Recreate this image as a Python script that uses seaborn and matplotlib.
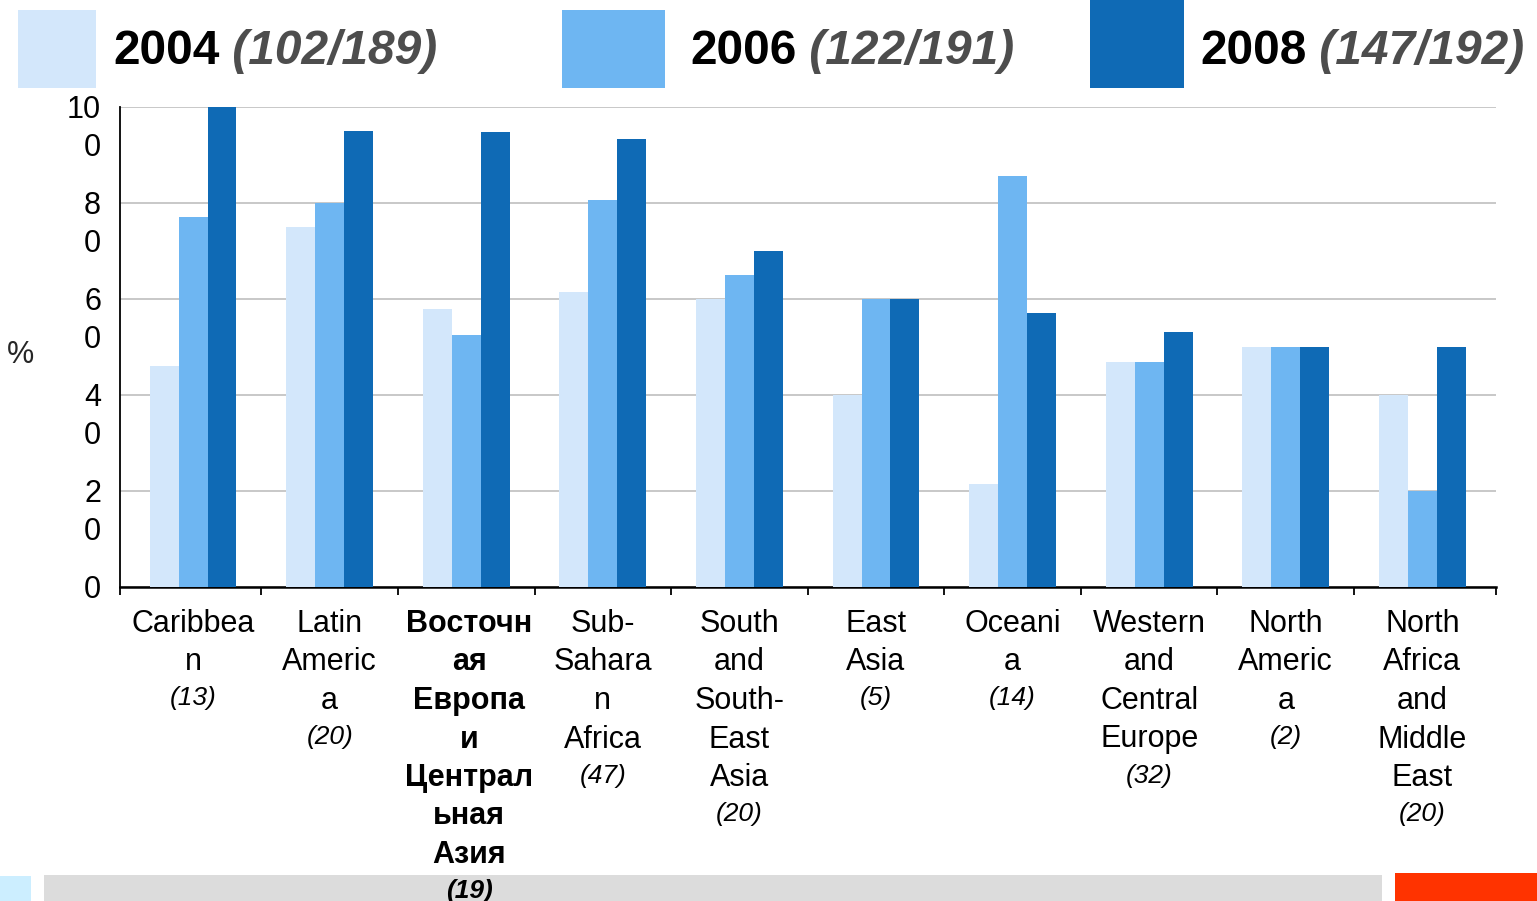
import numpy as np
import pandas as pd
import seaborn as sns
import matplotlib
matplotlib.use("Agg")
import matplotlib.pyplot as plt
from matplotlib.patches import Rectangle

sns.set_theme(style="white")
plt.rcParams['font.family'] = ['Liberation Sans', 'DejaVu Sans']

# ---------------- data ----------------
regions = ["Caribbean", "Latin America", "Eastern Europe and Central Asia",
           "Sub-Saharan Africa", "South and South-East Asia", "East Asia",
           "Oceania", "Western and Central Europe", "North America",
           "North Africa and Middle East"]
region_lines = [
    ["Caribbea", "n"],
    ["Latin", "Americ", "a"],
    ["Восточн", "ая", "Европа", "и", "Централ", "ьная", "Азия"],
    ["Sub-", "Sahara", "n", "Africa"],
    ["South", "and", "South-", "East", "Asia"],
    ["East", "Asia"],
    ["Oceani", "a"],
    ["Western", "and", "Central", "Europe"],
    ["North", "Americ", "a"],
    ["North", "Africa", "and", "Middle", "East"],
]
region_counts = ["(13)", "(20)", "(19)", "(47)", "(20)", "(5)", "(14)", "(32)", "(2)", "(20)"]
bold_region = "Eastern Europe and Central Asia"

years = ["2004", "2006", "2008"]
year_counts = ["(102/189)", "(122/191)", "(147/192)"]
values_2004 = [46, 75, 57.9, 61.5, 60, 40, 21.4, 46.9, 50, 40]
values_2006 = [77, 80, 52.6, 80.6, 65, 60, 85.7, 46.9, 50, 20]
values_2008 = [100, 95, 94.7, 93.4, 70, 60, 57.1, 53.1, 50, 50]
colors = ["#D3E7FB", "#6EB6F2", "#0F6AB5"]

ytick_values = [0, 20, 40, 60, 80, 100]

df = pd.DataFrame({
    "region": regions * 3,
    "year": [y for y in years for _ in regions],
    "value": values_2004 + values_2006 + values_2008,
})

# ---------------- figure ----------------
W, H = 1537, 901
fig = plt.figure(figsize=(W / 100, H / 100), dpi=100)
ax = fig.add_axes([120 / W, 1 - 587 / H, (1496 - 120) / W, (587 - 107) / H])

sns.barplot(data=df, x="region", y="value", hue="year", order=regions,
            hue_order=years, palette=colors, width=0.635, linewidth=0,
            saturation=1, errorbar=None, ax=ax, legend=False, zorder=3)

x0, x1 = -0.535, len(regions) - 0.461
ax.set_xlim(x0, x1)
ax.set_ylim(0, 100)
ax.set_xlabel("")
ax.set_ylabel("")

# grid
ax.set_yticks(ytick_values)
ax.yaxis.grid(True, color="#BFBFBF", linewidth=1.2, zorder=0)
ax.set_axisbelow(True)
ax.tick_params(axis="y", length=0, labelleft=False)

ax.set_xticks([x0] + list(np.arange(0.5, len(regions) - 1, 1)) + [x1])
ax.set_xticklabels([])
ax.tick_params(axis="x", direction="out", length=6, width=1.3, color="black", bottom=True)

for s in ["top", "right"]:
    ax.spines[s].set_visible(False)
ax.spines["left"].set_color("black")
ax.spines["left"].set_linewidth(1.3)
ax.spines["bottom"].set_color("black")
ax.spines["bottom"].set_linewidth(1.8)

FS = 22
FS_CNT = 19
LINE = 38.5

# y tick labels (wrapped like the original)
for v in ytick_values:
    s = str(v)
    parts = [s] if len(s) == 1 else [s[:-1], s[-1]]
    for k, p in enumerate(parts):
        ax.annotate(p, xy=(0, v), xycoords=("axes fraction", "data"),
                    xytext=(-19, -3 - k * LINE), textcoords="offset pixels",
                    ha="right", va="center", fontsize=FS, color="black",
                    annotation_clip=False)

fig.text(20 / W, 1 - 355 / H, "%", fontsize=FS, ha="center", va="center")

# category labels
for i, (name, lines, cnt) in enumerate(zip(regions, region_lines, region_counts)):
    bold = name == bold_region
    for k, ln in enumerate(lines + [cnt]):
        is_cnt = k == len(lines)
        ax.annotate(ln, xy=(i, 0), xycoords=("data", "axes fraction"),
                    xytext=(3 if bold else 0, -37 - k * LINE + (2.5 if is_cnt else 0)),
                    textcoords="offset pixels",
                    ha="center", va="center",
                    fontsize=FS_CNT if is_cnt else FS,
                    fontweight="bold" if bold else "normal",
                    fontstyle="italic" if is_cnt else "normal",
                    color="black", annotation_clip=False, zorder=5)

# legend
leg_boxes = [(18, 10, 96, 88), (562, 10, 665, 88), (1090, 0, 1184, 88)]
leg_text_x = [113, 690, 1200]
for (bx0, by0, bx1, by1), tx, yr, cnt, c in zip(leg_boxes, leg_text_x, years, year_counts, colors):
    fig.patches.append(Rectangle((bx0 / W, 1 - by1 / H), (bx1 - bx0) / W, (by1 - by0) / H,
                                 transform=fig.transFigure, facecolor=c, edgecolor="none"))
    t1 = fig.text(tx / W, 1 - 64 / H, yr, fontsize=34.5, fontweight="bold",
                  ha="left", va="baseline", color="black")
    ann = plt.Annotation(" " + cnt, xy=(1, 0), xycoords=t1, ha="left", va="bottom",
                         fontsize=34.5, fontweight="bold", fontstyle="italic", color="#4D4D4D")
    fig.texts.append(ann)
    ann.set_figure(fig)

# bottom decorative bars
for (bx0, by0, bx1, by1), c in [((0, 876, 31, 901), "#CCEEFF"),
                                ((44, 875, 1382, 901), "#DCDCDC"),
                                ((1395, 873, 1537, 901), "#FF3300")]:
    fig.patches.append(Rectangle((bx0 / W, 1 - by1 / H), (bx1 - bx0) / W, (by1 - by0) / H,
                                 transform=fig.transFigure, facecolor=c, edgecolor="none",
                                 zorder=-1))

fig.savefig("out.png", dpi=100)
